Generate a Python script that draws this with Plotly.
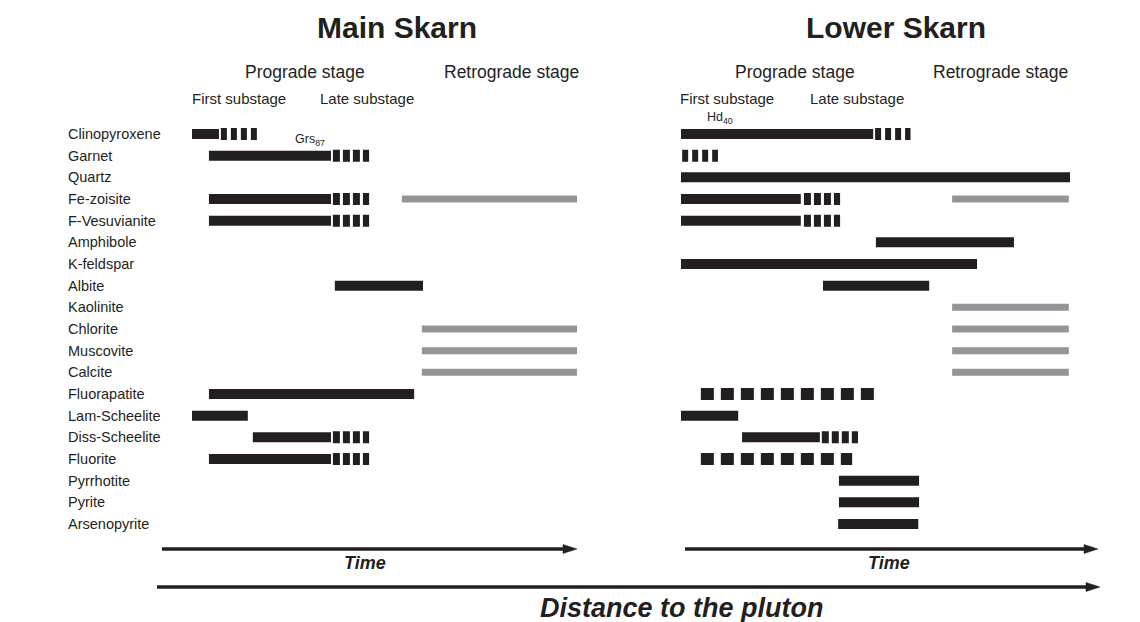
import plotly.graph_objects as go

W, H = 1140, 622
OFF = 8  # page body margin of the html page
FW, FH = W - OFF, H - OFF
BLACK = "#231f20"
GRAY = "#939598"
FONT = "Liberation Sans, Arial, sans-serif"

minerals = ["Clinopyroxene", "Garnet", "Quartz", "Fe-zoisite", "F-Vesuvianite",
            "Amphibole", "K-feldspar", "Albite", "Kaolinite", "Chlorite",
            "Muscovite", "Calcite", "Fluorapatite", "Lam-Scheelite",
            "Diss-Scheelite", "Fluorite", "Pyrrhotite", "Pyrite", "Arsenopyrite"]

# relative time (0-100) within each skarn
main_solid = [("Clinopyroxene", 0, 7), ("Garnet", 4.4, 36.1), ("Fe-zoisite", 4.4, 36.1),
              ("F-Vesuvianite", 4.4, 36.1), ("Albite", 37.1, 60), ("Fluorapatite", 4.4, 57.7),
              ("Lam-Scheelite", 0, 14.5), ("Diss-Scheelite", 15.8, 36.1), ("Fluorite", 4.4, 36.1)]
main_dashed_fine = [("Clinopyroxene", 7.5, 17)]
main_dashed = [("Garnet", 36.6, 46), ("Fe-zoisite", 36.6, 46), ("F-Vesuvianite", 36.6, 46),
               ("Diss-Scheelite", 36.6, 46), ("Fluorite", 36.6, 46)]
main_retro = [("Fe-zoisite", 54.5, 100), ("Chlorite", 59.7, 100),
              ("Muscovite", 59.7, 100), ("Calcite", 59.7, 100)]

lower_solid = [("Clinopyroxene", 0, 49.4), ("Quartz", 0, 100), ("Fe-zoisite", 0, 30.8),
               ("F-Vesuvianite", 0, 30.8), ("Amphibole", 50.1, 85.6), ("K-feldspar", 0, 76.1),
               ("Albite", 36.5, 63.8), ("Lam-Scheelite", 0, 14.7), ("Diss-Scheelite", 15.7, 35.7),
               ("Pyrrhotite", 40.6, 61.2), ("Pyrite", 40.6, 61.2), ("Arsenopyrite", 40.4, 61)]
lower_dashed_fine = [("Clinopyroxene", 49.9, 59), ("Garnet", 0.3, 9.5)]
lower_dashed = [("Fe-zoisite", 31.6, 40.9), ("F-Vesuvianite", 31.6, 40.9),
                ("Diss-Scheelite", 36.2, 45.5)]
lower_dotted = [("Fluorapatite", 5.1, 50.4), ("Fluorite", 5.1, 44)]
lower_retro = [("Fe-zoisite", 69.7, 99.7), ("Kaolinite", 69.7, 99.7), ("Chlorite", 69.7, 99.7),
               ("Muscovite", 69.7, 99.7), ("Calcite", 69.7, 99.7)]


def px(x):
    return (x - OFF) / FW


def py(y):
    return 1 - (y - OFF) / FH


fig = go.Figure()


def add(segs, xaxis, color, width, dash="solid"):
    xs, ys = [], []
    for m, a, b in segs:
        xs += [a, b, None]
        ys += [m, m, None]
    fig.add_trace(go.Scatter(x=xs, y=ys, mode="lines", xaxis=xaxis, yaxis="y",
                             line=dict(color=color, width=width, dash=dash),
                             hoverinfo="skip", showlegend=False))


add(main_retro, "x", GRAY, 7)
add(main_solid, "x", BLACK, 10)
add(main_dashed_fine, "x", BLACK, 12, "6px,4px")
add(main_dashed, "x", BLACK, 12, "7px,3px")
add(lower_retro, "x2", GRAY, 7)
add(lower_solid, "x2", BLACK, 10)
add(lower_dashed_fine, "x2", BLACK, 12, "6px,4px")
add(lower_dashed, "x2", BLACK, 12, "7px,3px")
add(lower_dotted, "x2", BLACK, 12, "13px,7px")

ann = []
for m in minerals:
    ann.append(dict(x=px(66), xref="paper", y=m, yref="y", text=m, showarrow=False,
                    xanchor="left", yanchor="middle",
                    font=dict(family=FONT, size=14.5, color=BLACK)))


def txt(x, y, t, size, bold=False, italic=False, anchor="center"):
    s = t
    if bold:
        s = "<b>" + s + "</b>"
    if italic:
        s = "<i>" + s + "</i>"
    ann.append(dict(x=px(x), y=py(y), xref="paper", yref="paper", text=s, showarrow=False,
                    xanchor=anchor, yanchor="middle",
                    font=dict(family=FONT, size=size, color=BLACK)))


txt(397, 27, "Main Skarn", 30, bold=True)
txt(896, 27, "Lower Skarn", 30, bold=True)
for cx, t in [(305, "Prograde stage"), (511, "Retrograde stage"),
              (795, "Prograde stage"), (1000, "Retrograde stage")]:
    txt(cx, 72, t, 17.5)
for cx, t in [(239, "First substage"), (367, "Late substage"),
              (727, "First substage"), (857, "Late substage")]:
    txt(cx, 98, t, 15)
txt(293, 140, "Grs<sub>87</sub>", 12.5, anchor="left")
txt(705, 118, "Hd<sub>40</sub>", 12.5, anchor="left")
txt(365, 563, "Time", 18, bold=True, italic=True)
txt(889, 563, "Time", 18, bold=True, italic=True)
txt(682, 608, "Distance to the pluton", 27, bold=True, italic=True)

shapes = []


def arrow(x0, x1, y, lw=3.5, hl=14, hh=4.5):
    shapes.append(dict(type="line", xref="paper", yref="paper", x0=px(x0), x1=px(x1 - hl + 2),
                       y0=py(y), y1=py(y), line=dict(color=BLACK, width=lw)))
    path = "M {},{} L {},{} L {},{} Z".format(px(x1 - hl), py(y - hh), px(x1), py(y),
                                             px(x1 - hl), py(y + hh))
    shapes.append(dict(type="path", xref="paper", yref="paper", path=path,
                       fillcolor=BLACK, line=dict(color=BLACK, width=0.5)))


arrow(162, 577, 549)
arrow(685, 1098, 549)
arrow(157, 1100, 587)

ax_common = dict(range=[0, 100], showgrid=False, zeroline=False, showticklabels=False,
                 showline=False, ticks="")
fig.update_layout(
    width=FW, height=FH, margin=dict(l=0, r=0, t=0, b=0),
    paper_bgcolor="white", plot_bgcolor="rgba(0,0,0,0)",
    xaxis=dict(domain=[px(192), px(577)], **ax_common),
    xaxis2=dict(domain=[px(681), px(1070)], anchor="y", **ax_common),
    yaxis=dict(domain=[py(534.83), py(123.17)], type="category",
               categoryorder="array", categoryarray=minerals, range=[18.5, -0.5],
               showgrid=False, zeroline=False, showticklabels=False, showline=False, ticks=""),
    annotations=ann, shapes=shapes, showlegend=False,
)

fig.write_html("out.html")
